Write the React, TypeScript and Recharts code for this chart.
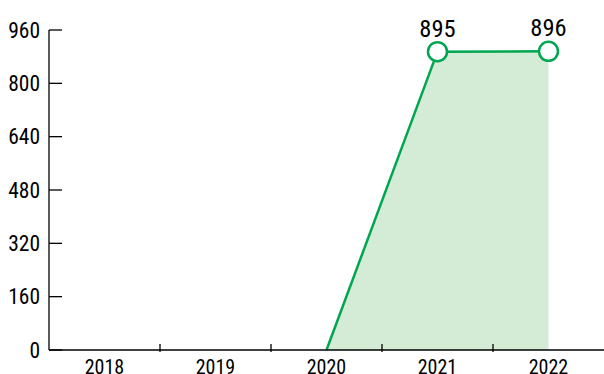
import React from 'react';
import { ComposedChart, Area, XAxis, YAxis, LabelList } from 'recharts';

const years = ['2018', '2019', '2020', '2021', '2022'];
const values: (number | null)[] = [null, null, 0, 895, 896];
const yTicks = [0, 160, 320, 480, 640, 800, 960];

const data = years.map((y, i) => ({ year: y, value: values[i] }));

const FONT = '"Liberation Sans Narrow", "Roboto Condensed", "DejaVu Sans Condensed", Roboto, sans-serif';
const GREEN = '#00a650';
const FILL = '#d4ebd5';

const YTick = (props: any) => {
  const { x, y, payload } = props;
  return (
    <g>
      <line x1={x + 9} x2={x + 22} y1={y} y2={y} stroke="#000" strokeWidth={1.3} />
      <text x={x} y={y} dy="0.36em" textAnchor="end" fontFamily={FONT} fontSize={21.5} fill="#000">
        {payload.value}
      </text>
    </g>
  );
};

const XTick = (props: any) => {
  const { x, y, payload, index } = props;
  const half = payload.offset ?? 55.5;
  return (
    <g>
      {index < years.length - 1 && (
        <line x1={x + half} x2={x + half} y1={y} y2={y - 8} stroke="#000" strokeWidth={1.3} />
      )}
      <text x={x} y={y + 22} textAnchor="middle" fontFamily={FONT} fontSize={20} fill="#000">
        {payload.value}
      </text>
    </g>
  );
};

const Dot = (props: any) => {
  const { cx, cy, value, index } = props;
  const v = Array.isArray(value) ? value[1] : value;
  if (v == null || v === 0 || cx == null) return <g key={`d${index}`} />;
  return <circle key={`d${index}`} cx={cx} cy={cy} r={9.5} fill="#fff" stroke={GREEN} strokeWidth={2.5} />;
};

const Label = (props: any) => {
  const { x, y, value } = props;
  if (value == null || value === 0) return null;
  return (
    <text x={x} y={y - 15} textAnchor="middle" fontFamily={FONT} fontSize={24.5} fill="#000">
      {value}
    </text>
  );
};

export default function App() {
  return (
    <div style={{ position: 'absolute', left: 0, top: 0, background: '#fff' }}>
      <ComposedChart width={604} height={374} data={data} margin={{ top: 30, right: 0, bottom: 0, left: 0 }}>
        <XAxis
          dataKey="year"
          scale="band"
          axisLine={{ stroke: '#000', strokeWidth: 1.3 }}
          tickLine={false}
          tickSize={0}
          height={24}
          interval={0}
          tick={<XTick />}
        />
        <YAxis
          domain={[0, 960]}
          ticks={yTicks}
          axisLine={{ stroke: '#000', strokeWidth: 1.3 }}
          tickLine={false}
          tickSize={0}
          tickMargin={9}
          width={49}
          interval={0}
          tick={<YTick />}
        />
        <Area
          type="linear"
          dataKey="value"
          stroke={GREEN}
          strokeWidth={2.5}
          fill={FILL}
          fillOpacity={1}
          dot={Dot}
          activeDot={false}
          isAnimationActive={false}
        >
          <LabelList dataKey="value" content={<Label />} />
        </Area>
      </ComposedChart>
    </div>
  );
}
